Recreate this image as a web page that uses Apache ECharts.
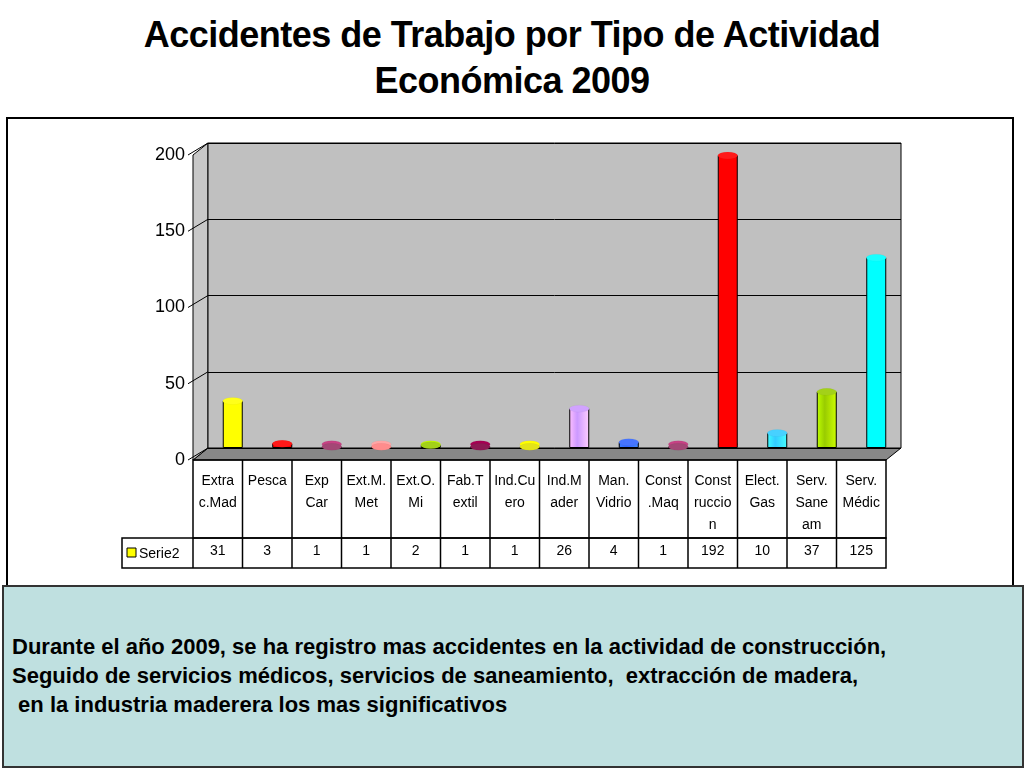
<!DOCTYPE html>
<html><head><meta charset="utf-8">
<script src="https://cdn.jsdelivr.net/npm/echarts@6/dist/echarts.min.js"></script>
<style>
body{margin:0;background:#fff;font-family:"Liberation Sans",Arial,sans-serif}
#title{position:absolute;left:0;top:12px;width:1024px;text-align:center;font-weight:bold;font-size:36px;line-height:46px;color:#000;letter-spacing:-0.5px}
#frame{position:absolute;left:6px;top:117px;width:1008px;height:470px;border:2px solid #000;box-sizing:border-box}
#main{position:absolute;left:0;top:0;width:1024px;height:768px}
#note{position:absolute;left:2px;top:585px;width:1022px;height:183px;background:#bfe0e0;border:2px solid #333;box-sizing:border-box;font-weight:bold;font-size:22px;line-height:29px;padding:45px 0 0 8px;color:#000;white-space:pre}
</style></head>
<body>
<div id="title">Accidentes de Trabajo por Tipo de Actividad<br>Económica 2009</div>
<div id="frame"></div>
<div id="main"></div>
<div id="note">Durante el año 2009, se ha registro mas accidentes en la actividad de construcción,
Seguido de servicios médicos, servicios de saneamiento,  extracción de madera,
 en la industria maderera los mas significativos</div>
<script>
// datos
var categorias = ['Extra\nc.Mad','Pesca','Exp\nCar','Ext.M.\nMet','Ext.O.\nMi','Fab.T\nextil','Ind.Cu\nero','Ind.M\nader','Man.\nVidrio','Const\n.Maq','Const\nruccio\nn','Elect.\nGas','Serv.\nSane\nam','Serv.\nMédic'];
var serie2 = [31, 3, 1, 1, 2, 1, 1, 26, 4, 1, 192, 10, 37, 125];
var colores = ['#ffff00','#ff0000','#993366','#ff8080','#99cc00','#800040','#e0e000','#cc99ff','#3366ff','#993366','#ff0000','#33ccff','#99cc00','#00ffff'];
var ticksY = [0, 50, 100, 150, 200];

var gl = 193, gw = 693, gt = 155, gh = 305;
var cw = gw / categorias.length;
var div = document.getElementById('main');
var myChart = echarts.init(div);

function cilindro(i) {
    return new echarts.graphic.LinearGradient(0, 0, 1, 0, [
        {offset: 0, color: echarts.color.lift(colores[i], -0.25)},
        {offset: 0.4, color: colores[i]},
        {offset: 1, color: echarts.color.lift(colores[i], -0.35)}
    ]);
}

// tabla de datos bajo el eje
var graficos = [
    {type: 'polygon', shape: {points: [[gl, gt + gh], [gl + 15, gt + gh - 12], [gl + gw + 15, gt + gh - 12], [gl + gw, gt + gh]]}, style: {fill: '#888', stroke: '#000', lineWidth: 1}, z: -1},
    {type: 'polygon', shape: {points: [[gl, gt], [gl + 15, gt - 12], [gl + 15, gt + gh - 12], [gl, gt + gh]]}, style: {fill: '#c8c8c8', stroke: '#000', lineWidth: 1}, z: -1},
    {type: 'rect', shape: {x: gl, y: gt + gh, width: gw, height: 78}, style: {fill: 'none', stroke: '#000', lineWidth: 1.5}},
    {type: 'rect', shape: {x: 122, y: gt + gh + 78, width: gw + gl - 122, height: 30}, style: {fill: 'none', stroke: '#000', lineWidth: 1.5}},
    {type: 'rect', shape: {x: 127, y: 548, width: 9, height: 9}, style: {fill: '#ffff00', stroke: '#000', lineWidth: 1}},
    {type: 'text', x: 139, y: 554, style: {text: 'Serie2', font: '14px "Liberation Sans"', fill: '#000', verticalAlign: 'middle'}},
    {type: 'line', shape: {x1: gl, y1: gt + gh + 78, x2: gl, y2: gt + gh + 108}, style: {stroke: '#000', lineWidth: 1.5}}
];
for (var i = 1; i < categorias.length; i++) {
    graficos.push({type: 'line', shape: {x1: gl + cw * i, y1: gt + gh, x2: gl + cw * i, y2: gt + gh + 108}, style: {stroke: '#000', lineWidth: 1.5}});
}

var option = {
    animation: false,
    grid: {left: gl + 15, top: gt - 12, width: gw, height: gh, show: true, backgroundColor: '#c0c0c0', borderColor: '#000', borderWidth: 1},
    xAxis: [{
        type: 'category', data: categorias,
        axisLine: {show: false}, axisTick: {show: false},
        axisLabel: {interval: 0, color: '#000', fontSize: 14, lineHeight: 22, margin: 22, padding: [0, 30, 0, 0], fontFamily: 'Liberation Sans', letterSpacing: -0.8}
    }, {
        type: 'category', data: serie2, position: 'bottom', offset: 88,
        axisLine: {show: false}, axisTick: {show: false},
        axisLabel: {interval: 0, color: '#000', fontSize: 14, padding: [0, 30, 0, 0]}
    }],
    yAxis: {
        type: 'value', min: 0, max: 200, interval: 50,
        axisLine: {show: false}, axisTick: {show: false},
        axisLabel: {show: false},
        splitLine: {lineStyle: {color: '#000', width: 1}}
    },
    series: [{
        type: 'bar', barWidth: 20,
        data: serie2.map(function (v, i) { return {value: v, itemStyle: {color: cilindro(i), borderColor: '#000', borderWidth: 1}}; })
    }, {
        type: 'pictorialBar', symbol: 'circle', symbolSize: [20, 7], symbolPosition: 'end', symbolOffset: [0, '-50%'], z: 3,
        data: serie2.map(function (v, i) { return {value: v, itemStyle: {color: echarts.color.lift(colores[i], 0.1), borderColor: '#000', borderWidth: 1}}; })
    }, {
        type: 'pictorialBar', symbol: 'circle', symbolSize: [20, 7], symbolPosition: 'start', z: 1,
        data: serie2.map(function (v, i) { return {value: v, itemStyle: {color: echarts.color.lift(colores[i], -0.3), borderColor: '#000', borderWidth: 1}}; })
    }],
    graphic: graficos.concat(ticksY.map(function (t) {
        var y = gt + gh - t / 200 * gh;
        return {type: 'group', children: [
            {type: 'line', shape: {x1: gl - 5, y1: y, x2: gl + 15, y2: y - 12}, style: {stroke: '#000', lineWidth: 1}},
            {type: 'text', x: gl - 8, y: y, style: {text: String(t), font: '18px "Liberation Sans"', fill: '#000', align: 'right', verticalAlign: 'middle'}}
        ]};
    }))
};
myChart.setOption(option);
</script>
</body></html>
